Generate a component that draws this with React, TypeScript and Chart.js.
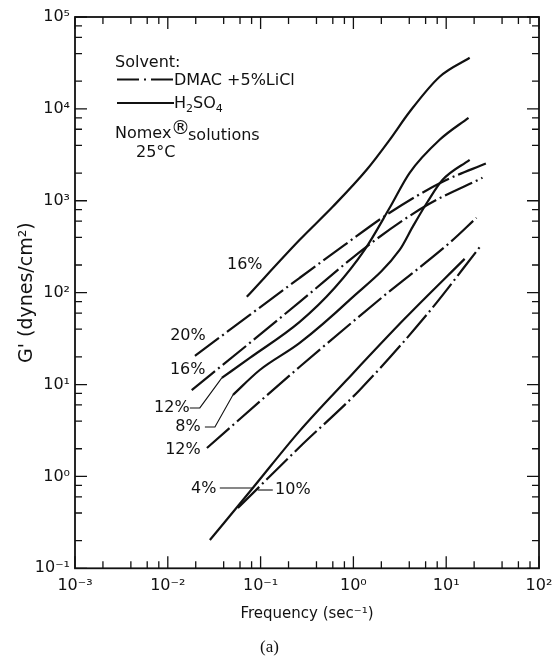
import React, { useEffect, useRef } from 'react';
import { Chart, registerables } from 'chart.js';

Chart.register(...registerables);

const INK = '#111111';
const FONT = "'DejaVu Sans', 'Liberation Sans', sans-serif";

// ---- axes ----
const xMin = 1e-3;
const xMax = 1e2;
const yMin = 1e-1;
const yMax = 1e5;
const xMajorValues = [1e-3, 1e-2, 1e-1, 1, 10, 100];
const xTickLabels = ['10⁻³', '10⁻²', '10⁻¹', '10⁰', '10¹', '10²'];
const yMajorValues = [1e-1, 1, 10, 100, 1e3, 1e4, 1e5];
const yTickLabels = ['10⁻¹', '10⁰', '10¹', '10²', '10³', '10⁴', '10⁵'];
const minorMultipliers = [2, 4, 6, 8];

// ---- H2SO4 solutions (solid) ----
const h2so4_16_freq = [0.071, 0.264, 0.598, 1.39, 2.46, 4.04, 8.5, 17.9];
const h2so4_16_G = [90, 376, 860, 2175, 4610, 9310, 22400, 36000];
const h2so4_12_freq = [0.0382, 0.0766, 0.264, 0.63, 1.32, 2.46, 4.04, 8.5, 17.4];
const h2so4_12_G = [11.8, 19.5, 48.1, 113, 292, 838, 2015, 4610, 8000];
const h2so4_8_freq = [0.0503, 0.098, 0.264, 0.912, 3.15, 4.35, 6.3, 9.15, 17.9];
const h2so4_8_G = [7.7, 14.4, 28.4, 83.5, 292, 520, 975, 1690, 2790];
const h2so4_4_freq = [0.0284, 0.0824, 0.264, 0.847, 3.56, 15.8];
const h2so4_4_G = [0.203, 0.748, 3.13, 11.2, 51.9, 233];

// ---- DMAC + 5% LiCl solutions (dash-dot) ----
const dmac_20_freq = [0.0196, 0.0766, 0.264, 0.805, 2.46, 9.15, 27.9];
const dmac_20_G = [20.5, 57.3, 145, 331, 740, 1608, 2590];
const dmac_16_freq = [0.0181, 0.0766, 0.264, 1.57, 6.3, 24.6];
const dmac_16_G = [8.7, 28.4, 79.4, 349, 904, 1780];
const dmac_12_freq = [0.0264, 0.264, 2.07, 10.9, 21.2];
const dmac_12_G = [2.04, 15.6, 90, 349, 652];
const dmac_10_freq = [0.0569, 0.264, 1.17, 6.15, 24.0];
const dmac_10_G = [0.453, 2.09, 8.74, 57.3, 331];

const DASH_DOT = [30, 4, 2, 4];

const seriesList = [
  { name: 'H2SO4 16%', freq: h2so4_16_freq, g: h2so4_16_G, dash: [] as number[] },
  { name: 'H2SO4 12%', freq: h2so4_12_freq, g: h2so4_12_G, dash: [] as number[] },
  { name: 'H2SO4 8%', freq: h2so4_8_freq, g: h2so4_8_G, dash: [] as number[] },
  { name: 'H2SO4 4%', freq: h2so4_4_freq, g: h2so4_4_G, dash: [] as number[] },
  { name: 'DMAC 20%', freq: dmac_20_freq, g: dmac_20_G, dash: DASH_DOT },
  { name: 'DMAC 16%', freq: dmac_16_freq, g: dmac_16_G, dash: DASH_DOT },
  { name: 'DMAC 12%', freq: dmac_12_freq, g: dmac_12_G, dash: DASH_DOT },
  { name: 'DMAC 10%', freq: dmac_10_freq, g: dmac_10_G, dash: DASH_DOT },
];

// curve labels: anchored at a data point of a dataset (offsets in px)
const curveLabels = [
  { text: '16%', ds: 0, pt: 0, dx: -2, dy: -32, leader: null as null | number[][] },
  { text: '20%', ds: 4, pt: 0, dx: -7, dy: -20, leader: null },
  { text: '16%', ds: 5, pt: 0, dx: -4, dy: -20, leader: null },
  { text: '12%', ds: 1, pt: 0, dx: -50, dy: 30, leader: [[-32, 30], [-22, 30], [0, 0]] },
  { text: '8%', ds: 2, pt: 0, dx: -45, dy: 32, leader: [[-28, 32], [-18, 32], [0, 0]] },
  { text: '12%', ds: 6, pt: 0, dx: -24, dy: 2, leader: null },
  { text: '4%', ds: 3, pt: 1, dx: -49, dy: 1, leader: [[-33, 0], [0, 0]] },
  { text: '10%', ds: 3, pt: 1, dx: 40, dy: 2, leader: [[5, 2], [20, 2]] },
];

function isMajor(v: number) {
  const l = Math.log10(v);
  return Math.abs(l - Math.round(l)) < 1e-6;
}

function logTicks(majors: number[]) {
  const out: number[] = [];
  majors.forEach((m, i) => {
    out.push(m);
    if (i < majors.length - 1) minorMultipliers.forEach((k) => out.push(k * m));
  });
  return out.sort((a, b) => a - b);
}

function labelFor(v: number, majors: number[], labels: string[]) {
  if (!isMajor(v)) return '';
  const i = majors.findIndex((m) => Math.abs(Math.log10(m) - Math.log10(v)) < 1e-6);
  return i >= 0 ? labels[i] : '';
}

const decorPlugin = {
  id: 'decor',
  afterDraw(chart: any) {
    const { ctx, chartArea: a, scales } = chart;
    const xs = scales.x;
    const ys = scales.y;
    ctx.save();
    ctx.strokeStyle = INK;
    ctx.fillStyle = INK;
    ctx.setLineDash([]);
    // frame
    ctx.lineWidth = 1.8;
    ctx.strokeRect(a.left, a.top, a.right - a.left, a.bottom - a.top);
    // inward ticks on all four sides
    ctx.lineWidth = 1.3;
    ctx.beginPath();
    xs.ticks.forEach((t: any) => {
      const px = xs.getPixelForValue(t.value);
      const len = isMajor(t.value) ? 12 : 7;
      ctx.moveTo(px, a.bottom);
      ctx.lineTo(px, a.bottom - len);
      ctx.moveTo(px, a.top);
      ctx.lineTo(px, a.top + len);
    });
    ys.ticks.forEach((t: any) => {
      const py = ys.getPixelForValue(t.value);
      const len = isMajor(t.value) ? 12 : 7;
      ctx.moveTo(a.left, py);
      ctx.lineTo(a.left + len, py);
      ctx.moveTo(a.right, py);
      ctx.lineTo(a.right - len, py);
    });
    ctx.stroke();

    // legend
    ctx.textAlign = 'left';
    ctx.textBaseline = 'alphabetic';
    ctx.font = `16px ${FONT}`;
    ctx.fillText('Solvent:', 115, 67);
    ctx.lineWidth = 2;
    ctx.setLineDash([22, 5, 2, 5]);
    ctx.beginPath();
    ctx.moveTo(117, 79.5);
    ctx.lineTo(174, 79.5);
    ctx.stroke();
    ctx.setLineDash([]);
    ctx.fillText('DMAC +5%LiCl', 174, 85);
    ctx.beginPath();
    ctx.moveTo(117, 103);
    ctx.lineTo(174, 103);
    ctx.stroke();
    let cx = 174;
    const parts: [string, boolean][] = [['H', false], ['2', true], ['SO', false], ['4', true]];
    parts.forEach(([s, sub]) => {
      ctx.font = sub ? `11px ${FONT}` : `16px ${FONT}`;
      ctx.fillText(s, cx, sub ? 112 : 108);
      cx += ctx.measureText(s).width;
    });
    ctx.font = `16px ${FONT}`;
    ctx.fillText('Nomex', 115, 138);
    ctx.font = `19px ${FONT}`;
    ctx.fillText('®', 171, 134);
    ctx.font = `16px ${FONT}`;
    ctx.fillText('solutions', 188, 140);
    ctx.fillText('25°C', 136, 157);

    // curve labels
    ctx.font = `16px ${FONT}`;
    ctx.textAlign = 'center';
    ctx.textBaseline = 'middle';
    curveLabels.forEach((lb) => {
      const p = chart.getDatasetMeta(lb.ds).data[lb.pt];
      if (!p) return;
      ctx.fillText(lb.text, p.x + lb.dx, p.y + lb.dy);
      if (lb.leader) {
        ctx.lineWidth = 1.1;
        ctx.beginPath();
        lb.leader.forEach(([dx, dy], i) => {
          if (i === 0) ctx.moveTo(p.x + dx, p.y + dy);
          else ctx.lineTo(p.x + dx, p.y + dy);
        });
        ctx.stroke();
      }
    });
    ctx.restore();
  },
};

export default function App() {
  const ref = useRef<HTMLCanvasElement>(null);
  useEffect(() => {
    const canvas = ref.current;
    if (!canvas) return;
    const chart = new Chart(canvas, {
      type: 'line',
      data: {
        datasets: seriesList.map((s) => ({
          label: s.name,
          data: s.freq.map((f, i) => ({ x: f, y: s.g[i] })),
          borderColor: INK,
          backgroundColor: INK,
          borderWidth: 2.2,
          borderDash: s.dash,
          pointRadius: 0,
          fill: false,
          cubicInterpolationMode: 'monotone' as const,
        })),
      },
      options: {
        animation: false,
        responsive: false,
        events: [],
        layout: { padding: { left: 0, right: 14, top: 17, bottom: 0 } },
        plugins: {
          legend: { display: false },
          tooltip: { enabled: false },
          subtitle: {
            display: true,
            position: 'bottom',
            text: '(a)',
            color: INK,
            font: { family: "'Liberation Serif', 'DejaVu Serif', serif", size: 17, weight: 'normal' },
            padding: { top: 3, bottom: 0 },
          },
        },
        scales: {
          x: {
            type: 'logarithmic',
            min: xMin,
            max: xMax,
            grid: { display: false, drawTicks: false },
            border: { display: false },
            afterBuildTicks: (axis: any) => {
              axis.ticks = logTicks(xMajorValues).map((v) => ({ value: v }));
            },
            afterFit: (s: any) => {
              s.height = 66.3;
              s.paddingLeft = 0;
              s.paddingRight = 0;
            },
            ticks: {
              autoSkip: false,
              maxRotation: 0,
              minRotation: 0,
              padding: 8,
              color: INK,
              font: { family: FONT, size: 16 },
              callback: (v: any) => labelFor(Number(v), xMajorValues, xTickLabels),
            },
            title: {
              display: true,
              text: 'Frequency (sec⁻¹)',
              color: INK,
              font: { family: FONT, size: 15 },
              padding: { top: 4, bottom: 11.6 },
            },
          },
          y: {
            type: 'logarithmic',
            min: yMin,
            max: yMax,
            grid: { display: false, drawTicks: false },
            border: { display: false },
            afterBuildTicks: (axis: any) => {
              axis.ticks = logTicks(yMajorValues).map((v) => ({ value: v }));
            },
            afterFit: (s: any) => {
              s.width = 75;
              s.paddingTop = 0;
              s.paddingBottom = 0;
            },
            ticks: {
              autoSkip: false,
              padding: 5,
              color: INK,
              font: { family: FONT, size: 16 },
              callback: (v: any) => labelFor(Number(v), yMajorValues, yTickLabels),
            },
            title: {
              display: true,
              text: "G' (dynes/cm²)",
              color: INK,
              font: { family: FONT, size: 19 },
              padding: { top: 15.6, bottom: 4 },
            },
          },
        },
      },
      plugins: [decorPlugin],
    } as any);
    return () => chart.destroy();
  }, []);
  return (
    <div style={{ position: 'absolute', left: 0, top: 0, width: 553, height: 658, background: '#fff' }}>
      <canvas ref={ref} width={553} height={658} style={{ display: 'block' }} />
    </div>
  );
}
